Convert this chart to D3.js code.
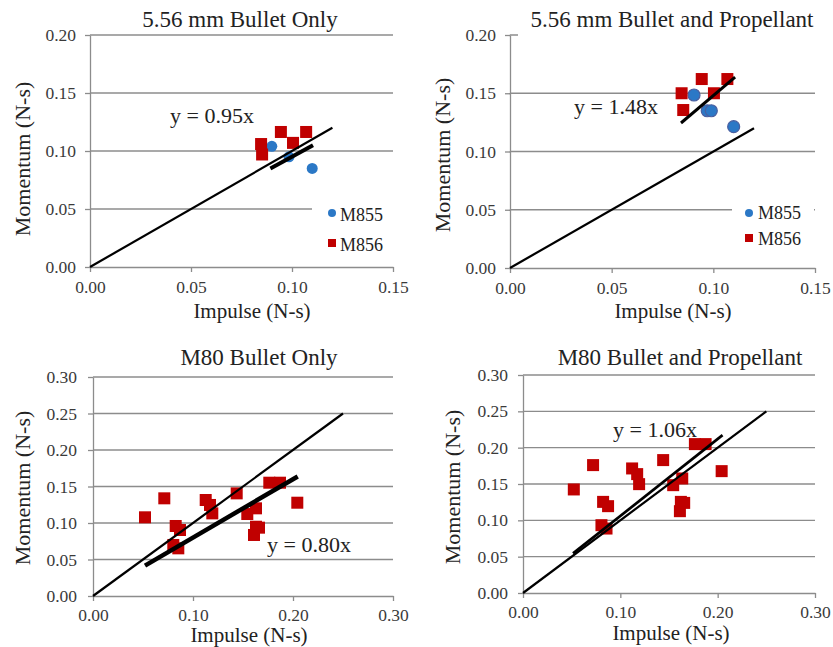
<!DOCTYPE html>
<html><head><meta charset="utf-8">
<script src="https://cdn.jsdelivr.net/npm/d3@7"></script>
<style>body{margin:0;background:#fff}svg{display:block}text{font-family:"Liberation Serif","Times New Roman",serif}</style>
</head><body>
<svg id="c" width="833" height="647"></svg>
<script>
// ---- data ----
const titles = ["5.56 mm Bullet Only", "5.56 mm Bullet and Propellant", "M80 Bullet Only", "M80 Bullet and Propellant"];
const xTicks556 = [0.00, 0.05, 0.10, 0.15];
const yTicks556 = [0.00, 0.05, 0.10, 0.15, 0.20];
const xTicksM80 = [0.00, 0.10, 0.20, 0.30];
const yTicksM80 = [0.00, 0.05, 0.10, 0.15, 0.20, 0.25, 0.30];
const seriesNames = ["M855", "M856"];

// 5.56 mm bullet only
const p1M855Impulse = [0.090, 0.0985, 0.110];
const p1M855Momentum = [0.104, 0.095, 0.085];
const p1M856Impulse = [0.0847, 0.0852, 0.0945, 0.1005, 0.107];
const p1M856Momentum = [0.106, 0.097, 0.1164, 0.107, 0.1164];
// 5.56 mm bullet and propellant
const p2M855Impulse = [0.0905, 0.097, 0.099, 0.110];
const p2M855Momentum = [0.1485, 0.135, 0.135, 0.1213];
const p2M856Impulse = [0.0943, 0.1069, 0.0844, 0.1003, 0.0852];
const p2M856Momentum = [0.1622, 0.1622, 0.150, 0.150, 0.1356];
// M80 bullet only
const p3Impulse = [0.052, 0.0713, 0.1127, 0.117, 0.1193, 0.0827, 0.087, 0.0803, 0.0853, 0.1437, 0.1543, 0.163, 0.163, 0.166, 0.161, 0.1763, 0.187, 0.2043];
const p3Momentum = [0.1078, 0.1338, 0.1315, 0.1247, 0.1132, 0.0959, 0.0904, 0.0699, 0.0653, 0.1406, 0.1123, 0.1201, 0.0949, 0.0936, 0.0836, 0.1552, 0.1552, 0.1278];
// M80 bullet and propellant
const p4Impulse = [0.0522, 0.072, 0.0823, 0.0874, 0.0806, 0.0858, 0.1121, 0.1173, 0.1193, 0.144, 0.1543, 0.1636, 0.1622, 0.1656, 0.1612, 0.1766, 0.1876, 0.2041];
const p4Momentum = [0.1425, 0.176, 0.1254, 0.1195, 0.0933, 0.0887, 0.1714, 0.1636, 0.1498, 0.1829, 0.1484, 0.1576, 0.1254, 0.124, 0.1126, 0.2049, 0.2049, 0.1677];

// fit lines y = slope * x and reference lines y = x
const fitSlopes = [0.95, 1.48, 0.80, 1.06];
const fitXStart = [0.0893, 0.0841, 0.052, 0.0514];
const fitXEnd = [0.1104, 0.1107, 0.2047, 0.205];
const refXEnd = [0.12, 0.12, 0.25, 0.25];

// ---- drawing ----
const FONT = '"Liberation Serif", "Times New Roman", serif';
const svg = d3.select("#c");
const RED = "#C00000", BLUE = "#2B78C6";
const GRID = "#8c8c8c";

const panels = [
  {box:[90,393,35,267], xd:0.15, yd:0.20, xt:xTicks556, yt:yTicks556, ylPad:9, xlPad:9,
   series:[{x:p1M855Impulse,y:p1M855Momentum,shape:"circle"},{x:p1M856Impulse,y:p1M856Momentum,shape:"square"}],
   title:{x:240,y:27}, fitLab:{x:170,y:123,w:4}, xtitle:{x:252,y:318}, ytitle:{x:30,y:159},
   legend:{x:332,y1:213,y2:243,tx:340,b1:221,b2:251,box:[312,200,81,58]}},
  {box:[510,815,35,268], xd:0.15, yd:0.20, xt:xTicks556, yt:yTicks556, ylPad:9, xlPad:9,
   series:[{x:p2M855Impulse,y:p2M855Momentum,shape:"circle2"},{x:p2M856Impulse,y:p2M856Momentum,shape:"square"}],
   title:{x:672,y:27,bg:[518,8,315,30]}, fitLab:{x:574,y:114,w:3}, xtitle:{x:673,y:318}, ytitle:{x:450,y:155},
   legend:{x:749,y1:213,y2:238,tx:758,b1:219,b2:245,box:[732,200,82,56]}},
  {box:[93,393,377,596], xd:0.30, yd:0.30, xt:xTicksM80, yt:yTicksM80, ylPad:11, xlPad:7.5,
   series:[{x:p3Impulse,y:p3Momentum,shape:"square"}],
   title:{x:259,y:365}, fitLab:{x:267,y:552,w:4.5}, xtitle:{x:249,y:642}, ytitle:{x:30,y:488}},
  {box:[523,815,375,593], xd:0.30, yd:0.30, xt:xTicksM80, yt:yTicksM80, ylPad:10, xlPad:7.5,
   series:[{x:p4Impulse,y:p4Momentum,shape:"square"}],
   title:{x:680,y:365}, fitLab:{x:613,y:437,w:2.7}, xtitle:{x:671,y:640}, ytitle:{x:460,y:487}}
];

panels.forEach((p, i) => {
  const [x0, x1, yT, yB] = p.box;
  const x = d3.scaleLinear().domain([0, p.xd]).range([x0, x1]);
  const y = d3.scaleLinear().domain([0, p.yd]).range([yB, yT]);
  const g = svg.append("g").attr("font-family", FONT);

  // gridlines
  g.append("g").selectAll("line").data(p.yt.filter(v => v > 0)).join("line")
    .attr("x1", x0).attr("x2", x1).attr("y1", d => y(d)).attr("y2", d => y(d))
    .attr("stroke", GRID).attr("stroke-width", 1.3);

  // axes
  const ya = g.append("g").attr("transform", `translate(${x0},0)`)
    .call(d3.axisLeft(y).tickValues(p.yt).tickSize(5).tickSizeOuter(0).tickPadding(p.ylPad).tickFormat(d3.format(".2f")));
  const xa = g.append("g").attr("transform", `translate(0,${yB})`)
    .call(d3.axisBottom(x).tickValues(p.xt).tickSize(5).tickSizeOuter(0).tickPadding(p.xlPad).tickFormat(d3.format(".2f")));
  [ya, xa].forEach(a => {
    a.attr("font-family", FONT).attr("font-size", 17.5);
    a.select(".domain").attr("stroke", GRID).attr("stroke-width", 1.3);
    a.selectAll(".tick line").attr("stroke", GRID).attr("stroke-width", 1.3);
    a.selectAll(".tick text").attr("fill", "#3a3a3a").attr("font-family", FONT).attr("font-size", 17.5);
  });

  // title (with background box where it overlaps gridlines)
  if (p.title.bg) {
    const b = p.title.bg;
    g.append("rect").attr("x", b[0]).attr("y", b[1]).attr("width", b[2]).attr("height", b[3]).attr("fill", "#fff");
  }
  g.append("text").attr("x", p.title.x).attr("y", p.title.y).attr("text-anchor", "middle")
    .attr("font-family", FONT).attr("font-size", 23).attr("fill", "#222").text(titles[i]);

  // axis titles
  g.append("text").attr("x", p.xtitle.x).attr("y", p.xtitle.y).attr("text-anchor", "middle")
    .attr("font-family", FONT).attr("font-size", 21).attr("fill", "#222").text("Impulse (N-s)");
  g.append("text").attr("transform", `translate(${p.ytitle.x},${p.ytitle.y}) rotate(-90)`).attr("text-anchor", "middle")
    .attr("font-family", FONT).attr("font-size", 22).attr("fill", "#222").text("Momentum (N-s)");

  // legend box (covers gridline)
  if (p.legend) {
    const b = p.legend.box;
    g.append("rect").attr("x", b[0]).attr("y", b[1]).attr("width", b[2]).attr("height", b[3]).attr("fill", "#fff");
  }

  // markers
  p.series.forEach(s => {
    const pts = s.x.map((v, k) => [v, s.y[k]]);
    if (s.shape === "square") {
      g.append("g").selectAll("rect").data(pts).join("rect")
        .attr("x", d => x(d[0]) - 6).attr("y", d => y(d[1]) - 6)
        .attr("width", 12).attr("height", 12).attr("fill", RED);
    } else {
      const r = s.shape === "circle2" ? 6 : 5.5;
      g.append("g").selectAll("circle").data(pts).join("circle")
        .attr("cx", d => x(d[0])).attr("cy", d => y(d[1])).attr("r", r)
        .attr("fill", BLUE)
        .attr("stroke", s.shape === "circle2" ? "#4a5fa0" : "none").attr("stroke-width", 1.2);
    }
  });

  // lines
  const line = d3.line().x(d => x(d[0])).y(d => y(d[1]));
  g.append("path").datum([[0, 0], [refXEnd[i], refXEnd[i]]]).attr("d", line)
    .attr("stroke", "#000").attr("stroke-width", 2.2).attr("fill", "none");
  g.append("path").datum([[fitXStart[i], fitSlopes[i] * fitXStart[i]], [fitXEnd[i], fitSlopes[i] * fitXEnd[i]]]).attr("d", line)
    .attr("stroke", "#000").attr("stroke-width", p.fitLab.w).attr("fill", "none");
  g.append("text").attr("x", p.fitLab.x).attr("y", p.fitLab.y).attr("font-family", FONT).attr("font-size", 22)
    .attr("fill", "#222").text(`y = ${fitSlopes[i].toFixed(2)}x`);

  // legend
  if (p.legend) {
    const L = p.legend;
    g.append("circle").attr("cx", L.x).attr("cy", L.y1).attr("r", 4).attr("fill", BLUE);
    g.append("rect").attr("x", L.x - 4).attr("y", L.y2 - 4).attr("width", 8).attr("height", 8).attr("fill", RED);
    g.append("text").attr("x", L.tx).attr("y", L.b1).attr("font-family", FONT).attr("font-size", 18).attr("fill", "#222").text(seriesNames[0]);
    g.append("text").attr("x", L.tx).attr("y", L.b2).attr("font-family", FONT).attr("font-size", 18).attr("fill", "#222").text(seriesNames[1]);
  }
});
</script>
</body></html>
